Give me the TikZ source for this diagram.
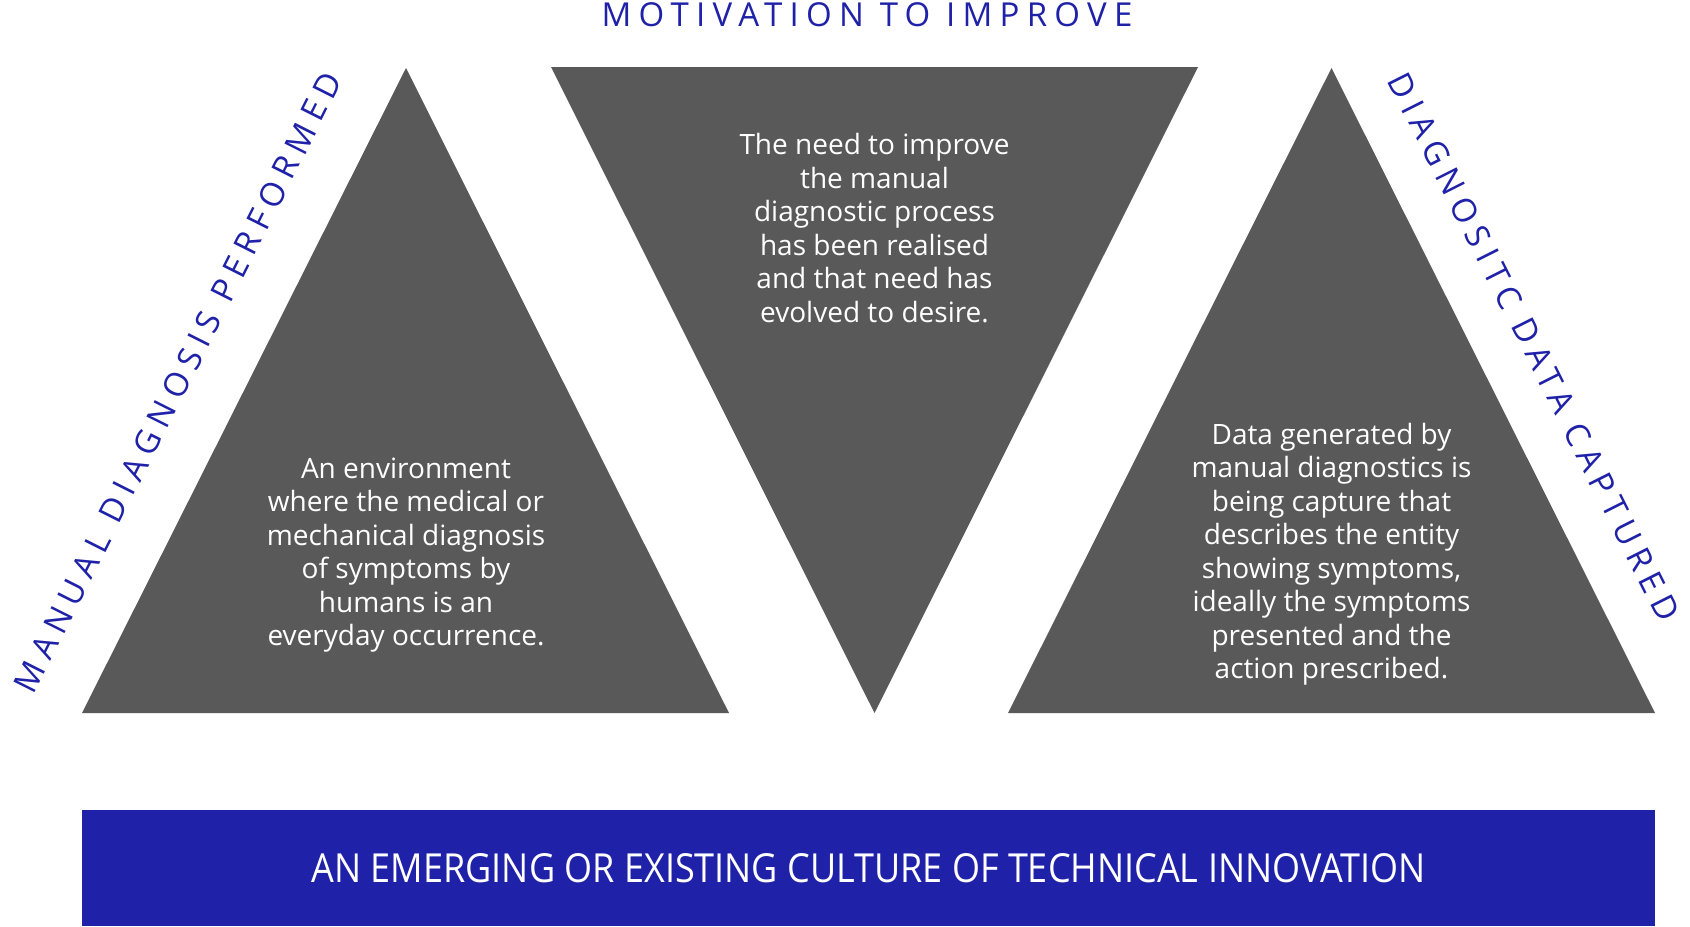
\documentclass[tikz,border=0pt]{standalone}
\usepackage{fontspec}
\setmainfont{Open Sans}
\definecolor{trigrey}{HTML}{595959}
\definecolor{cultblue}{HTML}{1F22A8}

\begin{document}
\begin{tikzpicture}[
                    x=0.5pt, y=-0.5pt,
                    tri/.style={fill=trigrey},
                    body/.style={text=white, align=center, inner sep=0pt,
                                 font=\fontsize{14}{16.75}\selectfont},
                    caption/.style={text=cultblue, inner sep=0pt,
                                    font=\fontsize{16.5}{20}\selectfont\addfontfeature{LetterSpace=22}},
                ]
                \useasboundingbox (0,0) rectangle (1690,926);

                % the three triangles
                \fill[tri] (82,713) -- (406,68) -- (729,713) -- cycle;
                \fill[tri] (551,67) -- (1198,67) -- (874.5,713) -- cycle;
                \fill[tri] (1008,713) -- (1331.5,68) -- (1655,713) -- cycle;

                % culture bar
                \fill[cultblue] (82,810) rectangle (1655,926);
                \node[text=white, inner sep=0pt, font=\fontsize{20}{24}\selectfont\addfontfeature{FakeStretch=0.9}]
                    (culture) at (868.5,868.5) {AN EMERGING OR EXISTING CULTURE OF TECHNICAL INNOVATION};

                \node[body] (manual) at (406,555) {An environment\\where the medical or\\mechanical diagnosis\\of symptoms by\\humans is an\\everyday occurrence.};
                \node[body] (motive) at (874.5,228) {The need to improve\\the manual\\diagnostic process\\has been realised\\and that need has\\evolved to desire.};
                \node[body] (data) at (1331.5,554) {Data generated by\\manual diagnostics is\\being capture that\\describes the entity\\showing symptoms,\\ideally the symptoms\\presented and the\\action prescribed.};

                \node[caption] (motivetitle) at (867,15) {MOTIVATION TO IMPROVE};
                \node[caption, rotate=63.3] (manualtitle) at (178,382) {MANUAL DIAGNOSIS PERFORMED};
                \node[caption, rotate=-63.3] (datatitle) at (1534,347) {DIAGNOSITC DATA CAPTURED};
            \end{tikzpicture}
\end{document}
